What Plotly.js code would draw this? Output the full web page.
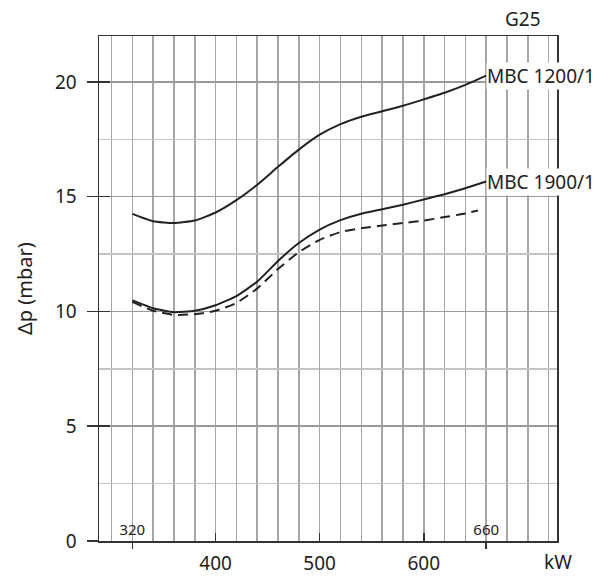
<!DOCTYPE html>
<html>
<head>
<meta charset="utf-8">
<script src="https://cdn.plot.ly/plotly-3.0.1.min.js"></script>
<style>html,body{margin:0;padding:0;background:#fff}#chart{width:614px;height:578px}</style>
</head>
<body>
<div id="chart"></div>
<script>
// kW values
const xFull = [320, 340, 360, 380, 400, 420, 440, 460, 480, 500, 520, 540, 560, 580, 600, 620, 640, 660];
const xDash = [320, 340, 360, 380, 400, 420, 440, 460, 480, 500, 520, 540, 560, 580, 600, 620, 640, 652];
// Δp (mbar)
const mbc1200 = [14.25, 13.93, 13.85, 13.96, 14.31, 14.85, 15.52, 16.3, 17.05, 17.7, 18.16, 18.48, 18.72, 18.96, 19.24, 19.53, 19.87, 20.27];
const mbc1900 = [10.48, 10.14, 9.97, 10.03, 10.27, 10.67, 11.3, 12.2, 12.98, 13.57, 13.98, 14.26, 14.45, 14.65, 14.88, 15.11, 15.37, 15.66];
const mbc1900dash = [10.42, 10.03, 9.85, 9.88, 10.03, 10.37, 11.0, 11.85, 12.58, 13.12, 13.46, 13.63, 13.74, 13.85, 13.96, 14.11, 14.27, 14.4];
const seriesNames = ["MBC 1200/1", "MBC 1900/1"];
const xTickVals = [400, 500, 600];
const xMarkVals = [320, 660];
const yTickVals = [0, 5, 10, 15, 20];
const gasLabel = "G25";
const xUnit = "kW";
const yTitle = "Δp (mbar)";

const FONT = "Noto Sans, Open Sans, sans-serif";
const INK = "#222";
const lineStyle = {color: INK, width: 2, shape: "spline", smoothing: 0.5};

const traces = [
  {x: xFull, y: mbc1200, mode: "lines", line: lineStyle, hoverinfo: "skip"},
  {x: xFull, y: mbc1900, mode: "lines", line: lineStyle, hoverinfo: "skip"},
  {x: xDash, y: mbc1900dash, mode: "lines", line: Object.assign({}, lineStyle, {dash: "10px,6px"}), hoverinfo: "skip"}
];

const xr = [288, 728];
const yr = [0, 22];

const layout = {
  width: 614, height: 578,
  margin: {l: 99, r: 57, t: 36, b: 37},
  paper_bgcolor: "#fff", plot_bgcolor: "#fff",
  showlegend: false,
  font: {family: FONT, size: 19, color: INK},
  xaxis: {
    range: xr, tickmode: "array", tickvals: xTickVals,
    ticks: "inside", ticklen: 8, tickwidth: 1.5, tickcolor: "#333",
    ticklabelstandoff: 5,
    showgrid: true, gridcolor: "#a6a6a6", gridwidth: 1.5,
    showline: true, linecolor: "#333", linewidth: 1.5, mirror: true,
    zeroline: false, tickfont: {size: 19, color: INK},
    minor: {tick0: 300, dtick: 20, showgrid: true, gridcolor: "#a6a6a6", gridwidth: 1.5, ticks: ""},
    fixedrange: true
  },
  xaxis2: {
    range: xr, overlaying: "x", anchor: "y", side: "bottom",
    tickmode: "array", tickvals: xMarkVals,
    ticks: "outside", ticklen: 7, tickwidth: 1.5, tickcolor: "#333",
    ticklabelposition: "inside", tickfont: {size: 15, color: INK},
    showgrid: false, showline: false, zeroline: false, fixedrange: true
  },
  yaxis: {
    range: yr, tickmode: "array", tickvals: yTickVals,
    ticks: "outside", ticklen: 11, tickwidth: 1.5, tickcolor: "#333",
    ticklabelstandoff: 6,
    showgrid: true, gridcolor: "#9a9a9a", gridwidth: 1.5,
    minor: {dtick: 2.5, showgrid: true, gridcolor: "#c4c4c4", gridwidth: 1.5, ticks: ""},
    showline: true, linecolor: "#333", linewidth: 1.5, mirror: true,
    zeroline: false, tickfont: {size: 19, color: INK}, fixedrange: true
  },
  yaxis2: {
    range: yr, overlaying: "y", anchor: "x", side: "left",
    tickmode: "array", tickvals: yTickVals,
    ticks: "inside", ticklen: 11, tickwidth: 1.5, tickcolor: "#333",
    showticklabels: false, showgrid: false, showline: false, zeroline: false, fixedrange: true
  },
  annotations: [
    {x: xFull[xFull.length - 1], y: mbc1200[mbc1200.length - 1], xref: "x", yref: "y",
     text: seriesNames[0], showarrow: false, xanchor: "left", yanchor: "middle",
     bgcolor: "#fff", borderpad: 0, font: {size: 19, color: INK}},
    {x: xFull[xFull.length - 1], y: mbc1900[mbc1900.length - 1], xref: "x", yref: "y",
     text: seriesNames[1], showarrow: false, xanchor: "left", yanchor: "middle",
     bgcolor: "#fff", borderpad: 0, font: {size: 19, color: INK}},
    {x: 0.926, y: 1.034, xref: "paper", yref: "paper", text: gasLabel, showarrow: false,
     xanchor: "center", yanchor: "middle", font: {size: 19, color: INK}},
    {x: 1.003, y: -0.0416, xref: "paper", yref: "paper", text: xUnit, showarrow: false,
     xanchor: "center", yanchor: "middle", font: {size: 19, color: INK}},
    {x: -0.1625, y: 0.5, xref: "paper", yref: "paper", text: yTitle, showarrow: false,
     textangle: -90, xanchor: "center", yanchor: "middle", font: {size: 20, color: INK}}
  ]
};

// invisible point that activates the overlay axes
traces.push({x: [xr[0]], y: [yr[0]], xaxis: "x2", yaxis: "y2", mode: "markers", marker: {opacity: 0}, hoverinfo: "skip"});

Plotly.newPlot("chart", traces, layout, {staticPlot: true, displayModeBar: false});
</script>
</body>
</html>
